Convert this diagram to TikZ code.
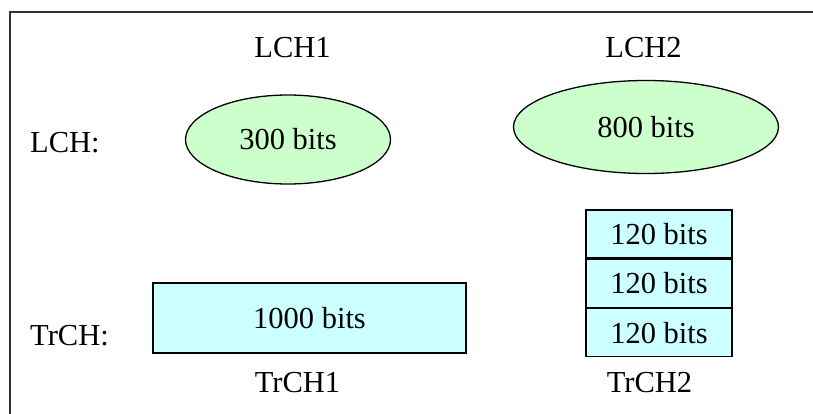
\documentclass[tikz,border=0pt]{standalone}
\usepackage{fontspec}
\setmainfont{Liberation Serif}
\usetikzlibrary{shapes.geometric}
\definecolor{lchfill}{RGB}{204,255,204}
\definecolor{trchfill}{RGB}{204,255,255}
\begin{document}
\begin{tikzpicture}[x=1pt,y=-1pt,
  lbl/.style={font=\fontsize{30.5}{36}\selectfont, inner sep=0pt},
  lchblob/.style={ellipse, draw=black, line width=1.3pt, fill=lchfill, inner sep=0pt,
    font=\fontsize{30.5}{36}\selectfont},
  trchbox/.style={rectangle, draw=black, line width=1.3pt, fill=trchfill, inner sep=0pt,
    font=\fontsize{30.5}{36}\selectfont},
  frameline/.style={draw=black!80, line width=2pt}]
  \useasboundingbox (0,0) rectangle (813,414);
  % outer frame (open to the right and bottom)
  \coordinate (fbl) at (10,414);
  \coordinate (ftl) at (10,12);
  \coordinate (ftr) at (813,12);
  \draw[frameline] (fbl) -- (ftl) -- (ftr);

  % logical channels
  \node[lbl] (lch1name) at (292.5,48) {LCH1};
  \node[lbl] (lch2name) at (643.5,48) {LCH2};
  \node[lbl, anchor=west] (lchrow) at (30,143) {LCH:};
  \node[lchblob, minimum width=205pt, minimum height=89pt] (lch1) at (288,139.5) {300 bits};
  \node[lchblob, minimum width=265pt, minimum height=93pt] (lch2) at (646,127) {800 bits};

  % transport channels
  \node[lbl, anchor=west] (trchrow) at (30,336) {TrCH:};
  \node[trchbox, minimum width=313pt, minimum height=70pt] (trch1) at (309.5,318) {1000 bits};
  \node[trchbox, minimum width=146pt, minimum height=48pt] (blk1) at (659,234) {120 bits};
  \node[trchbox, minimum width=146pt, minimum height=48pt, anchor=north] (blk2) at (blk1.south) {120 bits};
  \node[trchbox, minimum width=146pt, minimum height=48pt, anchor=north] (blk3) at (blk2.south) {120 bits};
  \node[lbl] (trch1name) at (297.5,383) {TrCH1};
  \node[lbl] (trch2name) at (649.5,382.5) {TrCH2};
\end{tikzpicture}
\end{document}
